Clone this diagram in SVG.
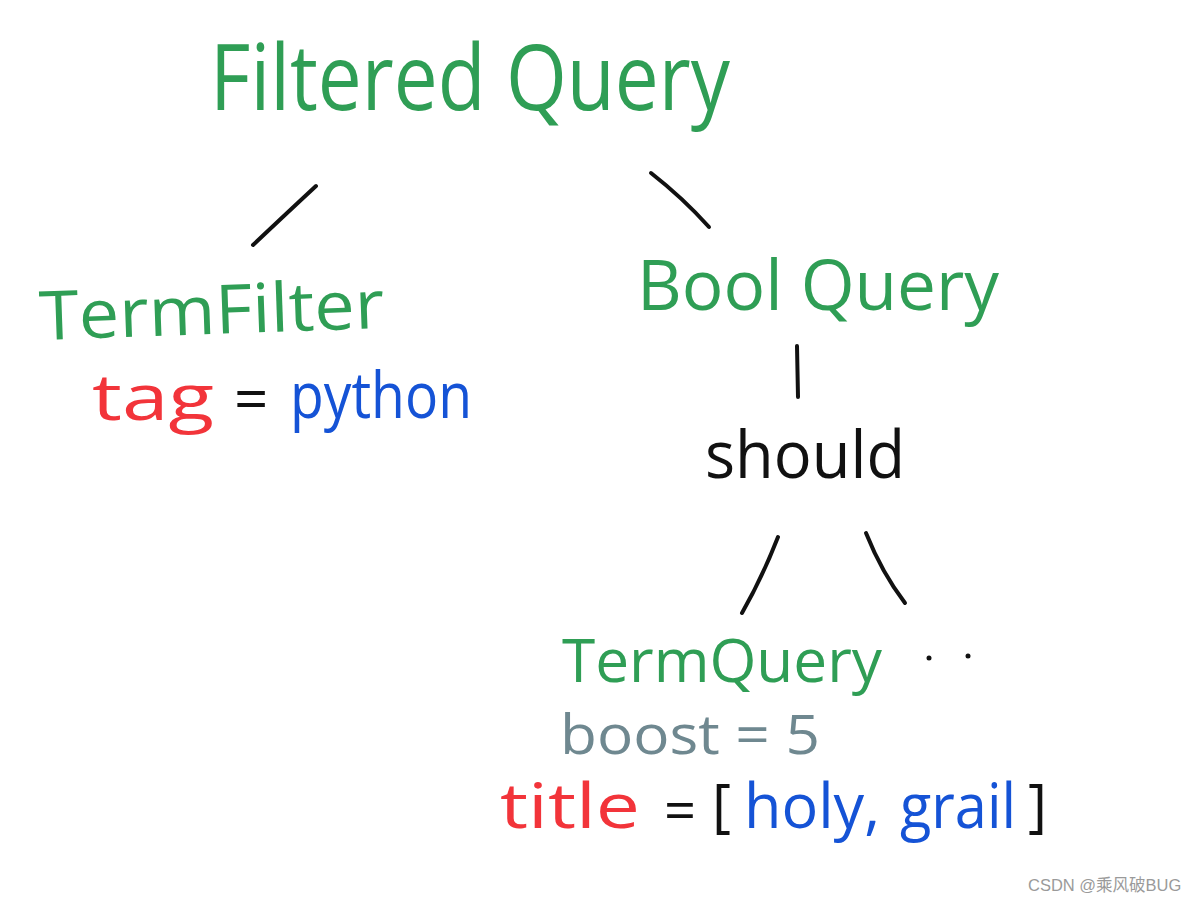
<svg xmlns="http://www.w3.org/2000/svg" width="1196" height="902" viewBox="0 0 1196 902">
<style>
text{font-family:"Open Sans","Liberation Sans",sans-serif;font-weight:400}
.g{fill:#2f9e55}
.r{fill:#f2343a}
.b{fill:#1553d6}
.k{fill:#111}
.s{fill:#6f8890}
.edge{stroke:#111;stroke-width:4;stroke-linecap:round;fill:none}
.wm{font-family:"Liberation Sans","Noto Sans CJK SC",sans-serif;font-size:16.5px;fill:#9a9a9a}
</style>
<rect width="1196" height="902" fill="#fff"/>
<g id="connectors">
<path class="edge" d="M316 186 Q288 212 253 245"/>
<path class="edge" d="M651 173 Q683 198 709 227"/>
<path class="edge" d="M797 346 L798 397"/>
<path class="edge" d="M778 537 Q762 578 742 613"/>
<path class="edge" d="M866 533 Q882 573 905 603"/>
</g>
<g id="filtered-query">
<text class="g" x="210" y="110" font-size="92" textLength="520" lengthAdjust="spacingAndGlyphs">Filtered Query</text>
</g>
<g id="term-filter">
<text class="g" x="40" y="340" font-size="68" textLength="345" lengthAdjust="spacingAndGlyphs" transform="rotate(-2 40 340)">TermFilter</text>
<text class="r" x="92" y="420" font-size="64" textLength="122" lengthAdjust="spacingAndGlyphs">tag</text>
<text class="k" x="234" y="420" font-size="60">=</text>
<text class="b" x="290" y="418" font-size="64" textLength="182" lengthAdjust="spacingAndGlyphs">python</text>
</g>
<g id="bool-query">
<text class="g" x="637" y="310" font-size="70" textLength="362" lengthAdjust="spacingAndGlyphs">Bool Query</text>
</g>
<g id="should">
<text class="k" x="705" y="478" font-size="66" textLength="200" lengthAdjust="spacingAndGlyphs">should</text>
</g>
<g id="term-query">
<text class="g" x="562" y="682" font-size="60" textLength="320" lengthAdjust="spacingAndGlyphs">TermQuery</text>
<circle cx="929" cy="658" r="2.5" fill="#111"/>
<circle cx="968" cy="656" r="2.5" fill="#111"/>
<text class="s" x="560" y="754" font-size="54" textLength="260" lengthAdjust="spacingAndGlyphs">boost = 5</text>
<text class="r" x="500" y="828" font-size="62" textLength="140" lengthAdjust="spacingAndGlyphs">title</text>
<text class="k" x="664" y="830" font-size="56">=</text>
<text class="k" x="712" y="826" font-size="58">[</text>
<text class="b" x="744" y="828" font-size="62" textLength="136" lengthAdjust="spacingAndGlyphs">holy,</text>
<text class="b" x="900" y="828" font-size="62" textLength="116" lengthAdjust="spacingAndGlyphs">grail</text>
<text class="k" x="1028" y="826" font-size="58">]</text>
</g>
<text class="wm" x="1028" y="891">CSDN @乘风破BUG</text>
</svg>
